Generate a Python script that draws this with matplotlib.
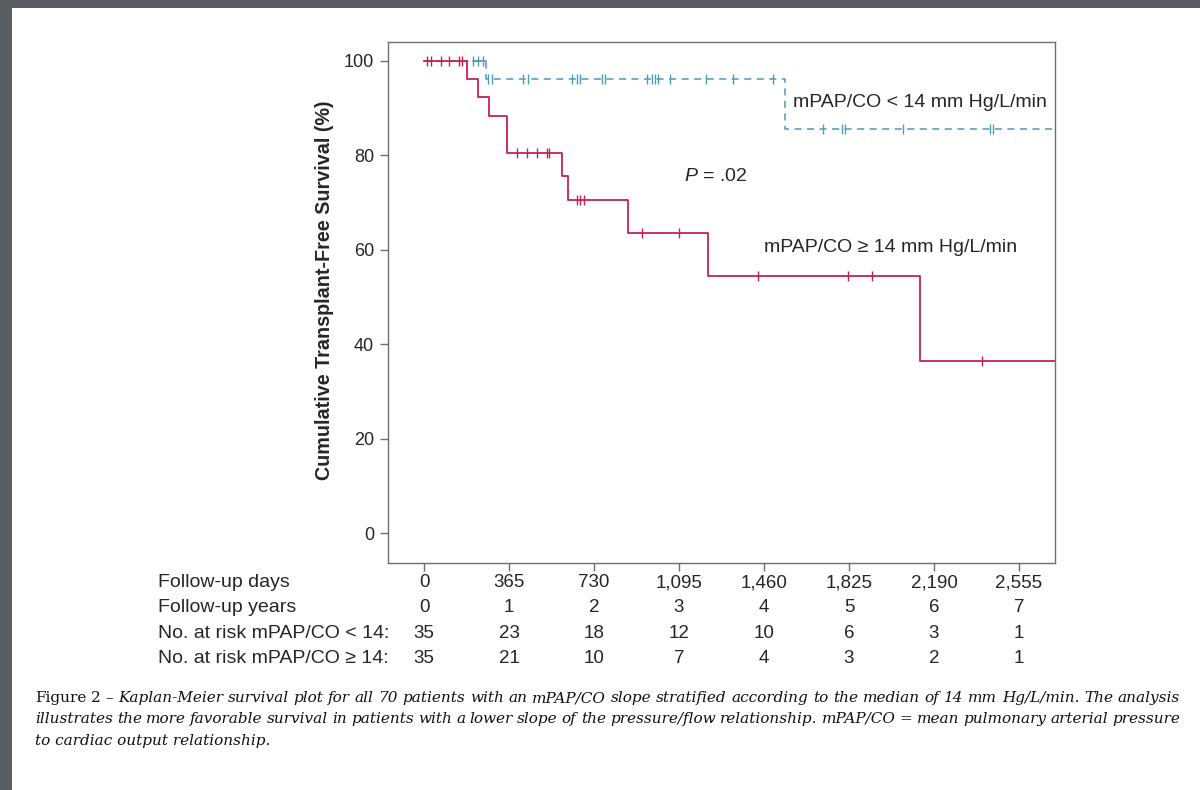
import numpy as np
import matplotlib
matplotlib.use("Agg")
import matplotlib.pyplot as plt
from matplotlib.transforms import blended_transform_factory
from matplotlib.patches import Rectangle

# ---------------- data ----------------
# mPAP/CO >= 14 (high slope) : step times (days) and survival (%)
high_times = [0, 186, 233, 278, 355, 591, 620, 877, 1221, 2130]
high_surv = [100, 96.2, 92.3, 88.4, 80.6, 75.7, 70.6, 63.5, 54.5, 36.4]
high_censor = [12, 29, 73, 109, 152, 162, 398, 441, 484, 527, 537,
               656, 670, 687, 935, 1096, 1435, 1819, 1922, 2395]

# mPAP/CO < 14 (low slope)
low_times = [0, 266, 1550]
low_surv = [100, 96.2, 85.5]
low_censor = [212, 233, 252, 276, 291, 426, 448, 634, 656, 670, 763, 777,
              956, 978, 992, 1006, 1056, 1211, 1328, 1500,
              1715, 1794, 1808, 2058, 2430, 2445]

tick_days = [0, 365, 730, 1095, 1460, 1825, 2190, 2555]
day_labels = ["0", "365", "730", "1,095", "1,460", "1,825", "2,190", "2,555"]
year_labels = ["0", "1", "2", "3", "4", "5", "6", "7"]
risk_low = [35, 23, 18, 12, 10, 6, 3, 1]
risk_high = [35, 21, 10, 7, 4, 3, 2, 1]
row_labels = ["Follow-up days", "Follow-up years",
              "No. at risk mPAP/CO < 14:", "No. at risk mPAP/CO \u2265 14:"]
y_ticks = [0, 20, 40, 60, 80, 100]

caption_head = "Figure 2 \u2013"
caption_l1 = ("Kaplan-Meier survival plot for all 70 patients with an mPAP/CO slope "
              "stratified according to the median of 14 mm Hg/L/min. The analysis")
caption_l2 = ("illustrates the more favorable survival in patients with a lower slope of the "
              "pressure/flow relationship. mPAP/CO = mean pulmonary arterial pressure")
caption_l3 = "to cardiac output relationship."

plt.rcParams["font.family"] = ["Liberation Sans", "DejaVu Sans"]
plt.rcParams["mathtext.fontset"] = "custom"
plt.rcParams["mathtext.it"] = "Liberation Sans:italic"
plt.rcParams["mathtext.rm"] = "Liberation Sans"

RED = "#c6205a"
BLUE = "#4a9db6"
GRAY = "#6e6e6e"
TXT = "#262626"
XMAX = 2710

W, H = 1200, 790
fig = plt.figure(figsize=(12, 7.9), dpi=100)
fig.patch.set_facecolor("#5a5e62")
fig.patches.append(Rectangle((12 / W, 0), 1, 1 - 8 / H, transform=fig.transFigure,
                             facecolor="white", edgecolor="none", zorder=-10))

ax = fig.add_axes([388 / W, 1 - 563 / H, (1055 - 388) / W, (563 - 42) / H])
ax.set_xlim(-155, XMAX)
ax.set_ylim(-6.3, 104.0)


def step_xy(times, surv, end):
    xs = list(times) + [end]
    ys = list(surv) + [surv[-1]]
    return xs, ys


def level_at(times, surv, t):
    idx = np.searchsorted(np.array(times), np.array(t), side="right") - 1
    return np.array(surv)[idx]


# low-slope group (dashed teal)
lx, ly = step_xy(low_times, low_surv, XMAX)
ln, = ax.step(lx, ly, where="post", color=BLUE, lw=1.1, zorder=2)
ln.set_dashes([4.6, 3.6])
ax.plot(low_censor, level_at(low_times, low_surv, low_censor), ls="none",
        marker="|", ms=7, mew=1.0, color=BLUE, zorder=3)
ax.plot([low_censor[0], low_times[1]], [100, 100], color=BLUE, lw=1.1, zorder=2)

# high-slope group (solid red)
hx, hy = step_xy(high_times, high_surv, XMAX)
ax.step(hx, hy, where="post", color=RED, lw=1.3, zorder=4)
ax.plot(high_censor, level_at(high_times, high_surv, high_censor), ls="none",
        marker="|", ms=7, mew=1.0, color=RED, zorder=5)

# axes styling
for s in ax.spines.values():
    s.set_color(GRAY)
    s.set_linewidth(1.0)
ax.set_yticks(y_ticks)
ax.set_yticklabels([str(v) for v in y_ticks], fontsize=13, color=TXT)
ax.set_xticks(tick_days)
ax.set_xticklabels([])
ax.tick_params(axis="both", direction="out", length=6, width=1.0, color=GRAY, pad=4)

ax.text(-0.0945, 0.524, "Cumulative Transplant-Free Survival (%)", transform=ax.transAxes,
        rotation=90, ha="center", va="center", fontsize=14.2, fontweight="bold", color=TXT)

# annotations
ax.text(1585, 91.1, "mPAP/CO < 14 mm Hg/L/min", fontsize=14, color=TXT,
        ha="left", va="center")
ax.text(1460, 60.4, "mPAP/CO \u2265 14 mm Hg/L/min", fontsize=14, color=TXT,
        ha="left", va="center")
ax.text(1115, 75.6, r"$\mathit{P}$ = .02", fontsize=14, color=TXT,
        ha="left", va="center")

# risk table
tr = blended_transform_factory(ax.transData, fig.transFigure)
rows = [day_labels, year_labels, [str(v) for v in risk_low], [str(v) for v in risk_high]]
row_base = [587, 612, 638, 663]
for lab, vals, yy in zip(row_labels, rows, row_base):
    fig.text(158 / W, 1 - yy / H, lab, ha="left", va="baseline", fontsize=14, color=TXT)
    for d, v in zip(tick_days, vals):
        ax.text(d, 1 - yy / H, v, transform=tr, ha="center", va="baseline",
                fontsize=13.5, color=TXT, clip_on=False)

# caption (justified lines)
cap_fs = 11.0
fam = "DejaVu Serif"
fig.canvas.draw()
renderer = fig.canvas.get_renderer()


def word_width(word, style):
    t = fig.text(0, 0, word, fontsize=cap_fs, family=fam, style=style)
    w = t.get_window_extent(renderer).width
    t.remove()
    return w


def justified(words_styles, y_px, x0=35, x1=1180):
    widths = [word_width(w, s) for w, s in words_styles]
    gap = (x1 - x0 - sum(widths)) / (len(words_styles) - 1)
    x = x0
    for (w, s), wd in zip(words_styles, widths):
        fig.text(x / W, 1 - y_px / H, w, ha="left", va="baseline", fontsize=cap_fs,
                 family=fam, style=s, color="#111111")
        x += wd + gap


line1 = [(w, "normal") for w in caption_head.split()] + \
        [(w, "italic") for w in caption_l1.split()]
line2 = [(w, "italic") for w in caption_l2.split()]
justified(line1, 702)
justified(line2, 723)
fig.text(35 / W, 1 - 745 / H, caption_l3, ha="left", va="baseline", fontsize=cap_fs,
         family=fam, style="italic", color="#111111")

fig.savefig("out.png", dpi=100, facecolor=fig.get_facecolor())
